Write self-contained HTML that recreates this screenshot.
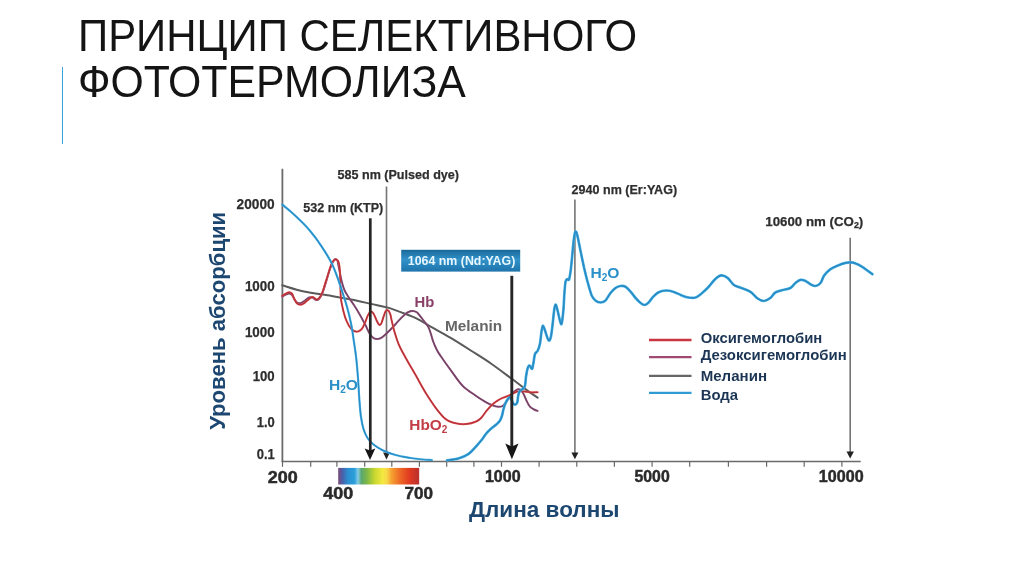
<!DOCTYPE html>
<html lang="ru"><head><meta charset="utf-8"><title>Принцип селективного фототермолиза</title>
<style>
html,body{margin:0;padding:0;background:#fff;}
body{width:1024px;height:574px;position:relative;overflow:hidden;font-family:"Liberation Sans",sans-serif;}
#title{position:absolute;left:77.6px;top:13px;margin:0;font-weight:400;font-size:44px;line-height:46px;color:#141414;white-space:nowrap;}
#title span{display:block;transform-origin:0 0;}
#t1{transform:scaleX(0.953);}
#t2{transform:scaleX(0.9727);}
#bar{position:absolute;left:61.5px;top:67.4px;width:1.4px;height:77px;background:#33a5d9;}
svg{position:absolute;left:0;top:0;}
svg text{font-family:"Liberation Sans",sans-serif;font-weight:700;}
</style></head><body>
<h1 id="title"><span id="t1">ПРИНЦИП СЕЛЕКТИВНОГО</span><span id="t2">ФОТОТЕРМОЛИЗА</span></h1>
<div id="bar"></div>
<svg width="1024" height="574" viewBox="0 0 1024 574">
<defs>
<linearGradient id="spec" x1="0" x2="1" y1="0" y2="0">
<stop offset="0" stop-color="#7b4a78"/><stop offset="0.05" stop-color="#4a5fa8"/><stop offset="0.12" stop-color="#2a8fd0"/><stop offset="0.2" stop-color="#2a9fd8"/><stop offset="0.245" stop-color="#86cbe8"/><stop offset="0.285" stop-color="#5aa870"/><stop offset="0.35" stop-color="#7ab648"/><stop offset="0.45" stop-color="#c8d830"/><stop offset="0.55" stop-color="#f5e840"/><stop offset="0.6" stop-color="#f8d848"/><stop offset="0.66" stop-color="#f5a030"/><stop offset="0.76" stop-color="#ee6a28"/><stop offset="0.88" stop-color="#e03a20"/><stop offset="1" stop-color="#b83030"/>
</linearGradient>
<linearGradient id="box" x1="0" x2="0" y1="0" y2="1">
<stop offset="0" stop-color="#1a6799"/><stop offset="0.45" stop-color="#3192c9"/><stop offset="1" stop-color="#1e74ab"/>
</linearGradient>
<filter id="soft" x="0" y="0" width="1024" height="574" filterUnits="userSpaceOnUse"><feGaussianBlur stdDeviation="0.55"/></filter>
</defs>
<g id="chart" filter="url(#soft)">
<!-- axes -->
<g stroke="#6a6a6a" stroke-width="1.5" fill="none">
<path d="M282.4 168.8V462" stroke-width="1.8"/>
<path d="M281.7 461.4H860.7"/>
<g stroke-width="1.2"><path d="M282.5 461.4V466.8"/><path d="M310.7 461.4V466.8"/><path d="M336.9 461.4V466.8"/><path d="M364.7 461.4V466.8"/><path d="M391.8 461.4V466.8"/><path d="M419.4 461.4V466.8"/><path d="M446.7 461.4V466.8"/><path d="M473.9 461.4V466.8"/><path d="M501.5 461.4V466.8"/><path d="M539.1 461.4V466.8"/><path d="M576.8 461.4V466.8"/><path d="M614.4 461.4V466.8"/><path d="M652.1 461.4V466.8"/><path d="M689.7 461.4V466.8"/><path d="M728.4 461.4V466.8"/><path d="M766.6 461.4V466.8"/><path d="M804.2 461.4V466.8"/><path d="M841.9 461.4V466.8"/></g>
</g>
<!-- laser marker lines -->
<g stroke="#747474" stroke-width="1.6" fill="none">
<path d="M386.5 186.4V455"/>
<path d="M574.9 199.6V455"/>
<path d="M850.2 237.8V455"/>
</g>
<g fill="#222">
<path d="M386.5 459.6L383.1 452.4H389.9Z"/>
<path d="M574.9 459.2L571.4 452.4H578.4Z"/>
<path d="M850.2 458.4L846.5 451.4H853.9Z"/>
</g>
<!-- curves -->
<g fill="none" stroke-linecap="round" stroke-linejoin="round">
<path d="M282.3 285.3C285.9 286.3 295.7 289.7 303.9 291.5C312.1 293.3 323.6 294.5 331.7 295.9C339.8 297.3 346.2 298.5 352.7 299.8C359.2 301.1 365.1 302.6 370.8 303.9C376.5 305.2 381.5 305.9 386.9 307.4C392.2 308.9 397.9 311.1 402.9 313.0C407.9 314.9 412.2 316.3 416.8 318.6C421.4 320.9 425.0 323.4 430.6 326.6C436.2 329.8 444.0 333.9 450.7 337.9C457.4 341.9 464.1 346.2 470.8 350.5C477.5 354.8 484.1 358.8 490.9 363.5C497.7 368.2 506.5 374.9 511.8 378.8C517.1 382.8 519.6 384.8 522.9 387.2C526.1 389.6 528.8 391.7 531.3 393.4C533.8 395.1 536.5 396.9 537.6 397.6" stroke="#5a5a5a" stroke-width="2"/>
<path d="M282.3 296.5C282.9 296.2 284.7 295.1 285.8 294.6C286.9 294.1 288.2 293.3 289.2 293.4C290.2 293.5 291.1 294.0 292.0 295.0C292.9 296.0 293.6 298.2 294.5 299.5C295.4 300.8 296.4 302.2 297.5 302.8C298.6 303.4 299.8 303.4 301.0 303.0C302.2 302.6 303.7 301.4 305.0 300.5C306.3 299.6 307.8 298.0 309.0 297.5C310.2 297.0 311.5 297.2 312.5 297.5C313.5 297.8 314.2 299.1 315.0 299.5C315.8 299.9 316.6 300.4 317.5 300.0C318.4 299.6 319.4 298.5 320.3 297.1C321.2 295.7 322.0 294.3 323.0 291.5C324.0 288.7 325.4 284.1 326.5 280.4C327.6 276.7 328.9 272.3 329.9 269.3C330.9 266.3 331.8 264.0 332.7 262.3C333.6 260.6 334.4 259.2 335.2 259.0C336.0 258.8 336.9 259.5 337.5 261.0C338.1 262.5 338.2 264.7 338.9 267.9C339.6 271.1 340.6 276.7 341.5 280.4C342.4 284.1 343.2 287.2 344.4 290.0C345.6 292.8 346.9 294.4 348.5 297.0C350.1 299.6 352.2 302.4 354.1 305.3C356.0 308.2 357.8 311.1 359.7 314.4C361.6 317.6 363.7 321.7 365.3 324.8C366.9 327.9 368.0 331.0 369.4 333.2C370.8 335.4 372.2 337.1 373.6 338.1C375.0 339.1 376.4 339.1 377.8 339.0C379.2 338.9 380.4 338.5 382.0 337.4C383.6 336.3 385.6 334.2 387.5 332.5C389.4 330.8 391.2 328.9 393.1 326.9C395.0 324.9 396.8 322.6 398.7 320.6C400.6 318.6 402.7 316.5 404.3 315.1C405.9 313.7 407.0 312.7 408.4 312.0C409.8 311.3 411.2 310.8 412.6 310.9C414.0 310.9 415.5 311.4 416.8 312.3C418.1 313.2 419.3 315.1 420.6 316.6C421.9 318.2 423.1 319.9 424.4 321.6C425.6 323.3 427.1 324.7 428.1 326.6C429.1 328.5 429.8 330.4 430.6 332.9C431.5 335.4 432.1 338.6 433.2 341.5C434.2 344.4 435.6 347.5 436.9 350.0C438.2 352.5 438.7 353.1 441.0 356.5C443.3 359.9 447.1 365.2 450.7 370.1C454.3 375.0 458.4 381.5 462.6 385.8C466.8 390.1 472.0 393.0 475.8 395.7C479.6 398.4 482.6 400.2 485.3 401.8C488.1 403.4 490.2 404.5 492.3 405.3C494.4 406.1 496.2 406.6 497.9 406.7C499.6 406.8 501.3 406.8 502.7 406.0C504.1 405.2 504.9 403.4 506.2 401.8C507.5 400.2 509.0 397.9 510.4 396.2C511.8 394.4 513.3 392.4 514.6 391.3C515.9 390.2 517.1 389.5 518.1 389.3C519.1 389.1 520.0 389.2 520.9 390.0C521.8 390.8 522.7 392.4 523.6 394.1C524.5 395.8 525.4 398.3 526.4 400.4C527.4 402.5 528.6 405.2 529.9 406.7C531.2 408.2 532.8 408.8 534.1 409.5C535.4 410.2 537.0 410.7 537.6 410.9" stroke="#9a5a86" stroke-width="2"/>
<path d="M282.3 296.5C282.9 296.2 284.7 295.1 285.8 294.6C286.9 294.1 288.2 293.3 289.2 293.4C290.2 293.5 291.1 294.0 292.0 295.0C292.9 296.0 293.6 298.2 294.5 299.5C295.4 300.8 296.4 302.2 297.5 302.8C298.6 303.4 299.8 303.4 301.0 303.0C302.2 302.6 303.7 301.4 305.0 300.5C306.3 299.6 307.8 298.0 309.0 297.5C310.2 297.0 311.5 297.2 312.5 297.5C313.5 297.8 314.2 299.1 315.0 299.5C315.8 299.9 316.6 300.4 317.5 300.0C318.4 299.6 319.4 298.5 320.3 297.1C321.2 295.7 322.0 294.3 323.0 291.5C324.0 288.7 325.4 284.1 326.5 280.4C327.6 276.7 328.9 272.3 329.9 269.3C330.9 266.3 331.8 264.0 332.7 262.3C333.6 260.6 334.4 259.2 335.2 259.0C336.0 258.8 336.9 259.5 337.5 261.0C338.1 262.5 338.2 264.7 338.9 267.9C339.6 271.1 340.6 276.7 341.5 280.4C342.4 284.1 343.2 287.2 344.4 290.0C345.6 292.8 346.9 294.4 348.5 297.0C350.1 299.6 352.2 302.4 354.1 305.3C356.0 308.2 357.8 311.1 359.7 314.4C361.6 317.6 363.7 321.7 365.3 324.8C366.9 327.9 368.0 331.0 369.4 333.2C370.8 335.4 372.2 337.1 373.6 338.1C375.0 339.1 376.4 339.1 377.8 339.0C379.2 338.9 380.4 338.5 382.0 337.4C383.6 336.3 385.6 334.2 387.5 332.5C389.4 330.8 391.2 328.9 393.1 326.9C395.0 324.9 396.8 322.6 398.7 320.6C400.6 318.6 402.7 316.5 404.3 315.1C405.9 313.7 407.0 312.7 408.4 312.0C409.8 311.3 411.2 310.8 412.6 310.9C414.0 310.9 415.5 311.4 416.8 312.3C418.1 313.2 419.3 315.1 420.6 316.6C421.9 318.2 423.1 319.9 424.4 321.6C425.6 323.3 427.1 324.7 428.1 326.6C429.1 328.5 429.8 330.4 430.6 332.9C431.5 335.4 432.1 338.6 433.2 341.5C434.2 344.4 435.6 347.5 436.9 350.0C438.2 352.5 438.7 353.1 441.0 356.5C443.3 359.9 447.1 365.2 450.7 370.1C454.3 375.0 458.4 381.5 462.6 385.8C466.8 390.1 472.0 393.0 475.8 395.7C479.6 398.4 482.6 400.2 485.3 401.8C488.1 403.4 490.2 404.5 492.3 405.3C494.4 406.1 496.2 406.6 497.9 406.7C499.6 406.8 501.3 406.8 502.7 406.0C504.1 405.2 504.9 403.4 506.2 401.8C507.5 400.2 509.0 397.9 510.4 396.2C511.8 394.4 513.3 392.4 514.6 391.3C515.9 390.2 517.1 389.5 518.1 389.3C519.1 389.1 520.0 389.2 520.9 390.0C521.8 390.8 522.7 392.4 523.6 394.1C524.5 395.8 525.4 398.3 526.4 400.4C527.4 402.5 528.6 405.2 529.9 406.7C531.2 408.2 532.8 408.8 534.1 409.5C535.4 410.2 537.0 410.7 537.6 410.9" stroke="#6e4060" stroke-width="1.1"/>
<path d="M282.3 295.7C282.9 295.4 284.7 294.2 285.8 293.6C286.9 293.0 288.2 292.2 289.2 292.2C290.2 292.2 291.2 292.6 292.0 293.6C292.8 294.7 293.3 296.9 294.1 298.5C294.9 300.1 295.8 302.3 296.9 303.4C297.9 304.4 299.2 304.8 300.4 304.8C301.6 304.8 302.6 304.2 303.9 303.4C305.2 302.6 306.6 300.9 308.0 299.9C309.4 298.8 311.0 297.3 312.2 297.1C313.4 296.9 314.2 298.1 315.0 298.5C315.8 298.9 316.3 299.8 317.1 299.6C317.9 299.4 319.0 298.5 319.9 297.1C320.8 295.8 321.6 294.3 322.7 291.5C323.8 288.7 325.0 284.1 326.2 280.4C327.4 276.7 328.6 272.3 329.6 269.3C330.6 266.3 331.5 263.9 332.4 262.3C333.3 260.7 334.3 259.7 335.2 259.5C336.1 259.3 337.3 259.8 338.0 260.9C338.7 261.9 339.0 263.5 339.4 265.8C339.8 268.1 339.9 271.4 340.1 274.8C340.3 278.2 340.3 282.1 340.4 286.0C340.5 289.9 340.5 294.5 340.9 298.4C341.3 302.3 342.1 305.8 343.0 309.5C343.9 313.2 345.0 317.4 346.4 320.6C347.8 323.9 349.6 327.1 351.3 329.0C353.1 330.9 355.1 331.8 356.9 331.8C358.6 331.8 360.4 330.6 361.8 329.0C363.2 327.4 364.3 324.3 365.3 322.0C366.3 319.7 367.1 316.8 368.0 315.1C368.9 313.4 369.9 311.8 370.8 311.6C371.7 311.4 372.7 312.3 373.6 313.7C374.5 315.1 375.5 318.1 376.4 320.0C377.3 321.9 378.4 324.2 379.2 324.8C380.0 325.4 380.6 324.7 381.3 323.4C382.0 322.1 382.7 319.2 383.4 317.2C384.1 315.2 384.8 312.8 385.5 311.6C386.2 310.4 387.0 309.9 387.8 310.2C388.6 310.5 389.5 312.0 390.1 313.7C390.8 315.4 391.0 317.6 391.7 320.6C392.4 323.6 393.3 327.9 394.5 331.8C395.7 335.8 396.9 340.0 398.7 344.3C400.5 348.6 402.7 352.4 405.5 357.5C408.3 362.6 412.2 369.2 415.6 375.1C419.0 381.0 422.2 387.2 425.6 392.7C429.0 398.1 432.4 403.4 435.7 407.8C439.0 412.2 442.4 416.5 445.7 419.1C449.0 421.7 452.3 422.5 455.7 423.3C459.1 424.1 462.5 424.4 465.8 424.1C469.1 423.9 473.1 422.8 475.6 421.8C478.2 420.8 479.2 419.9 481.1 418.0C483.0 416.1 484.8 412.8 486.7 410.6C488.6 408.4 490.4 406.3 492.3 404.6C494.2 402.9 496.0 401.6 497.9 400.4C499.8 399.2 501.5 398.4 503.4 397.6C505.2 396.8 507.4 396.2 509.0 395.5C510.6 394.8 511.8 394.1 513.2 393.4C514.6 392.7 515.8 391.9 517.4 391.5C519.0 391.1 520.8 391.2 522.9 391.3C525.0 391.4 527.4 392.1 529.9 392.3C532.4 392.5 536.3 392.3 537.6 392.3" stroke="#e24e50" stroke-width="2"/>
<path d="M282.3 295.7C282.9 295.4 284.7 294.2 285.8 293.6C286.9 293.0 288.2 292.2 289.2 292.2C290.2 292.2 291.2 292.6 292.0 293.6C292.8 294.7 293.3 296.9 294.1 298.5C294.9 300.1 295.8 302.3 296.9 303.4C297.9 304.4 299.2 304.8 300.4 304.8C301.6 304.8 302.6 304.2 303.9 303.4C305.2 302.6 306.6 300.9 308.0 299.9C309.4 298.8 311.0 297.3 312.2 297.1C313.4 296.9 314.2 298.1 315.0 298.5C315.8 298.9 316.3 299.8 317.1 299.6C317.9 299.4 319.0 298.5 319.9 297.1C320.8 295.8 321.6 294.3 322.7 291.5C323.8 288.7 325.0 284.1 326.2 280.4C327.4 276.7 328.6 272.3 329.6 269.3C330.6 266.3 331.5 263.9 332.4 262.3C333.3 260.7 334.3 259.7 335.2 259.5C336.1 259.3 337.3 259.8 338.0 260.9C338.7 261.9 339.0 263.5 339.4 265.8C339.8 268.1 339.9 271.4 340.1 274.8C340.3 278.2 340.3 282.1 340.4 286.0C340.5 289.9 340.5 294.5 340.9 298.4C341.3 302.3 342.1 305.8 343.0 309.5C343.9 313.2 345.0 317.4 346.4 320.6C347.8 323.9 349.6 327.1 351.3 329.0C353.1 330.9 355.1 331.8 356.9 331.8C358.6 331.8 360.4 330.6 361.8 329.0C363.2 327.4 364.3 324.3 365.3 322.0C366.3 319.7 367.1 316.8 368.0 315.1C368.9 313.4 369.9 311.8 370.8 311.6C371.7 311.4 372.7 312.3 373.6 313.7C374.5 315.1 375.5 318.1 376.4 320.0C377.3 321.9 378.4 324.2 379.2 324.8C380.0 325.4 380.6 324.7 381.3 323.4C382.0 322.1 382.7 319.2 383.4 317.2C384.1 315.2 384.8 312.8 385.5 311.6C386.2 310.4 387.0 309.9 387.8 310.2C388.6 310.5 389.5 312.0 390.1 313.7C390.8 315.4 391.0 317.6 391.7 320.6C392.4 323.6 393.3 327.9 394.5 331.8C395.7 335.8 396.9 340.0 398.7 344.3C400.5 348.6 402.7 352.4 405.5 357.5C408.3 362.6 412.2 369.2 415.6 375.1C419.0 381.0 422.2 387.2 425.6 392.7C429.0 398.1 432.4 403.4 435.7 407.8C439.0 412.2 442.4 416.5 445.7 419.1C449.0 421.7 452.3 422.5 455.7 423.3C459.1 424.1 462.5 424.4 465.8 424.1C469.1 423.9 473.1 422.8 475.6 421.8C478.2 420.8 479.2 419.9 481.1 418.0C483.0 416.1 484.8 412.8 486.7 410.6C488.6 408.4 490.4 406.3 492.3 404.6C494.2 402.9 496.0 401.6 497.9 400.4C499.8 399.2 501.5 398.4 503.4 397.6C505.2 396.8 507.4 396.2 509.0 395.5C510.6 394.8 511.8 394.1 513.2 393.4C514.6 392.7 515.8 391.9 517.4 391.5C519.0 391.1 520.8 391.2 522.9 391.3C525.0 391.4 527.4 392.1 529.9 392.3C532.4 392.5 536.3 392.3 537.6 392.3" stroke="#ae3038" stroke-width="1.1"/>
<path d="M282.3 204.6C283.6 205.7 287.5 208.8 289.9 210.9C292.3 213.0 294.6 215.0 296.9 217.2C299.2 219.4 301.6 221.7 303.9 224.1C306.2 226.5 308.5 229.0 310.8 231.8C313.1 234.6 315.5 237.7 317.8 240.9C320.1 244.2 322.5 247.6 324.8 251.3C327.1 255.0 329.6 259.0 331.7 263.3C333.8 267.6 335.5 272.1 337.3 277.0C339.1 281.9 340.9 287.5 342.5 292.5C344.1 297.5 345.5 301.4 347.0 306.8C348.5 312.2 350.1 318.8 351.3 324.8C352.5 330.8 353.2 337.1 354.1 342.9C355.0 348.7 355.8 353.8 356.4 359.7C357.0 365.6 357.5 371.3 358.0 378.0C358.5 384.7 358.9 393.5 359.4 400.0C359.9 406.5 360.3 412.2 361.0 417.0C361.7 421.8 362.4 425.5 363.5 429.0C364.6 432.5 365.8 435.4 367.5 438.0C369.2 440.6 370.9 442.4 373.5 444.5C376.1 446.6 379.3 448.6 383.0 450.4C386.7 452.1 390.9 453.7 395.5 455.0C400.1 456.3 406.0 457.2 410.6 458.0C415.2 458.8 419.6 459.2 423.1 459.5C426.7 459.8 430.4 459.9 431.9 460.0" stroke="#4ab6ea" stroke-width="2.2"/>
<path d="M282.3 204.6C283.6 205.7 287.5 208.8 289.9 210.9C292.3 213.0 294.6 215.0 296.9 217.2C299.2 219.4 301.6 221.7 303.9 224.1C306.2 226.5 308.5 229.0 310.8 231.8C313.1 234.6 315.5 237.7 317.8 240.9C320.1 244.2 322.5 247.6 324.8 251.3C327.1 255.0 329.6 259.0 331.7 263.3C333.8 267.6 335.5 272.1 337.3 277.0C339.1 281.9 340.9 287.5 342.5 292.5C344.1 297.5 345.5 301.4 347.0 306.8C348.5 312.2 350.1 318.8 351.3 324.8C352.5 330.8 353.2 337.1 354.1 342.9C355.0 348.7 355.8 353.8 356.4 359.7C357.0 365.6 357.5 371.3 358.0 378.0C358.5 384.7 358.9 393.5 359.4 400.0C359.9 406.5 360.3 412.2 361.0 417.0C361.7 421.8 362.4 425.5 363.5 429.0C364.6 432.5 365.8 435.4 367.5 438.0C369.2 440.6 370.9 442.4 373.5 444.5C376.1 446.6 379.3 448.6 383.0 450.4C386.7 452.1 390.9 453.7 395.5 455.0C400.1 456.3 406.0 457.2 410.6 458.0C415.2 458.8 419.6 459.2 423.1 459.5C426.7 459.8 430.4 459.9 431.9 460.0" stroke="#2a8ac2" stroke-width="1.25"/>
<path d="M447.0 460.3C448.9 460.0 454.8 459.5 458.3 458.5C461.9 457.5 465.4 456.2 468.3 454.2C471.2 452.2 473.5 449.1 475.8 446.7C478.1 444.2 480.3 441.6 482.0 439.5C483.7 437.4 484.5 435.6 486.0 433.8C487.5 432.0 489.1 430.4 490.9 428.8C492.6 427.2 495.0 425.7 496.5 424.3C498.0 422.9 499.1 422.0 500.0 420.6C500.9 419.2 501.4 417.6 502.0 415.7C502.6 413.8 502.8 411.6 503.4 409.5C504.0 407.4 504.7 405.0 505.5 403.2C506.3 401.4 507.5 399.4 508.3 398.5C509.1 397.6 509.8 397.5 510.4 397.8C511.0 398.1 511.3 399.4 511.8 400.4C512.3 401.4 512.8 403.2 513.5 403.9C514.2 404.5 515.4 404.6 516.0 404.3C516.6 404.0 517.0 403.2 517.4 401.8C517.8 400.4 517.8 397.9 518.1 396.2C518.5 394.5 518.8 392.6 519.5 391.5C520.2 390.4 521.4 390.1 522.2 389.3C523.1 388.6 524.1 388.2 524.6 387.0C525.1 385.8 525.3 383.7 525.5 382.0C525.7 380.3 525.7 378.6 526.0 376.7C526.3 374.8 526.7 372.2 527.1 370.5C527.5 368.8 528.0 366.9 528.5 366.2C529.0 365.4 529.7 365.6 530.2 366.0C530.7 366.4 530.9 368.0 531.3 368.4C531.7 368.8 532.0 369.3 532.4 368.2C532.8 367.1 533.2 364.4 533.6 362.0C534.0 359.6 534.3 355.9 535.0 354.0C535.7 352.1 537.0 352.2 537.8 350.5C538.6 348.8 539.4 346.6 540.0 343.6C540.6 340.6 540.9 335.4 541.4 332.4C541.9 329.4 542.2 326.3 542.8 325.8C543.3 325.3 543.9 327.6 544.7 329.6C545.5 331.6 546.7 336.2 547.5 338.0C548.3 339.8 548.9 341.0 549.5 340.5C550.1 340.0 550.6 338.6 551.2 335.2C551.8 331.8 552.6 324.4 553.1 319.9C553.6 315.4 554.0 310.5 554.5 308.0C555.0 305.5 555.4 304.2 555.9 304.8C556.4 305.4 557.1 308.8 557.8 311.5C558.5 314.2 559.5 319.3 560.1 321.3C560.8 323.3 561.2 325.4 561.7 323.5C562.2 321.6 562.9 315.4 563.4 310.1C563.9 304.9 564.1 296.8 564.5 292.0C564.9 287.2 565.1 283.6 565.6 281.5C566.1 279.4 566.7 279.5 567.3 279.2C567.9 278.9 568.5 280.9 569.0 279.5C569.5 278.1 570.1 274.7 570.6 271.1C571.1 267.5 571.5 262.9 572.0 258.0C572.5 253.2 573.0 246.4 573.5 242.0C574.0 237.6 574.7 232.9 575.3 231.8C575.9 230.7 576.4 232.2 577.3 235.3C578.1 238.4 579.3 244.9 580.4 250.3C581.5 255.7 582.9 262.4 584.1 267.9C585.4 273.3 586.6 278.4 587.9 283.0C589.2 287.6 590.5 292.6 591.7 295.5C593.0 298.4 594.0 299.3 595.4 300.5C596.8 301.7 598.7 302.5 600.4 302.5C602.1 302.5 603.8 302.1 605.5 300.5C607.2 298.9 608.8 295.1 610.5 293.0C612.2 290.9 613.8 289.2 615.5 288.0C617.2 286.8 618.8 286.2 620.5 286.0C622.2 285.8 623.8 285.8 625.5 286.7C627.2 287.6 628.9 289.8 630.6 291.7C632.3 293.6 633.9 296.1 635.6 298.0C637.3 299.9 639.1 301.8 640.6 303.0C642.1 304.2 643.1 305.0 644.4 305.0C645.6 305.0 646.6 304.4 648.1 303.0C649.6 301.6 651.5 298.6 653.2 296.8C654.9 295.1 656.1 293.6 658.2 292.5C660.3 291.4 663.2 290.6 665.7 290.5C668.2 290.4 670.7 290.9 673.2 291.7C675.7 292.4 678.3 294.0 680.8 295.0C683.3 296.0 685.8 297.1 688.3 297.5C690.8 297.9 693.5 298.2 695.8 297.5C698.1 296.8 700.1 294.7 702.1 293.0C704.1 291.3 705.8 289.8 708.0 287.5C710.2 285.2 712.9 281.2 715.1 279.2C717.3 277.2 719.2 275.6 721.3 275.4C723.4 275.2 725.5 276.3 727.6 277.9C729.7 279.5 731.8 283.4 733.9 285.0C736.0 286.6 737.5 286.4 740.2 287.5C742.9 288.6 747.3 289.9 750.2 291.7C753.1 293.5 755.4 296.9 757.7 298.5C760.0 300.1 761.9 301.1 764.0 301.0C766.1 300.9 768.4 299.4 770.3 298.0C772.2 296.6 773.2 293.8 775.3 292.5C777.4 291.2 780.3 290.8 782.8 290.0C785.3 289.2 788.3 289.2 790.4 288.0C792.5 286.8 793.7 284.4 795.4 283.0C797.1 281.6 798.7 280.2 800.4 279.9C802.1 279.5 803.7 280.2 805.4 280.9C807.1 281.6 808.7 283.3 810.4 284.2C812.1 285.1 813.8 286.2 815.5 286.0C817.2 285.8 819.0 284.8 820.5 283.0C822.0 281.2 822.5 277.7 824.2 275.4C825.9 273.1 828.2 270.8 830.5 269.1C832.8 267.4 835.5 266.4 838.0 265.4C840.5 264.4 843.5 263.4 845.6 262.9C847.7 262.4 848.9 262.3 850.6 262.4C852.3 262.5 853.7 262.7 855.6 263.4C857.5 264.1 859.8 265.3 861.9 266.6C864.0 267.9 866.5 269.9 868.2 271.2C870.0 272.5 871.7 273.7 872.4 274.2" stroke="#4ab6ea" stroke-width="2.7"/>
<path d="M447.0 460.3C448.9 460.0 454.8 459.5 458.3 458.5C461.9 457.5 465.4 456.2 468.3 454.2C471.2 452.2 473.5 449.1 475.8 446.7C478.1 444.2 480.3 441.6 482.0 439.5C483.7 437.4 484.5 435.6 486.0 433.8C487.5 432.0 489.1 430.4 490.9 428.8C492.6 427.2 495.0 425.7 496.5 424.3C498.0 422.9 499.1 422.0 500.0 420.6C500.9 419.2 501.4 417.6 502.0 415.7C502.6 413.8 502.8 411.6 503.4 409.5C504.0 407.4 504.7 405.0 505.5 403.2C506.3 401.4 507.5 399.4 508.3 398.5C509.1 397.6 509.8 397.5 510.4 397.8C511.0 398.1 511.3 399.4 511.8 400.4C512.3 401.4 512.8 403.2 513.5 403.9C514.2 404.5 515.4 404.6 516.0 404.3C516.6 404.0 517.0 403.2 517.4 401.8C517.8 400.4 517.8 397.9 518.1 396.2C518.5 394.5 518.8 392.6 519.5 391.5C520.2 390.4 521.4 390.1 522.2 389.3C523.1 388.6 524.1 388.2 524.6 387.0C525.1 385.8 525.3 383.7 525.5 382.0C525.7 380.3 525.7 378.6 526.0 376.7C526.3 374.8 526.7 372.2 527.1 370.5C527.5 368.8 528.0 366.9 528.5 366.2C529.0 365.4 529.7 365.6 530.2 366.0C530.7 366.4 530.9 368.0 531.3 368.4C531.7 368.8 532.0 369.3 532.4 368.2C532.8 367.1 533.2 364.4 533.6 362.0C534.0 359.6 534.3 355.9 535.0 354.0C535.7 352.1 537.0 352.2 537.8 350.5C538.6 348.8 539.4 346.6 540.0 343.6C540.6 340.6 540.9 335.4 541.4 332.4C541.9 329.4 542.2 326.3 542.8 325.8C543.3 325.3 543.9 327.6 544.7 329.6C545.5 331.6 546.7 336.2 547.5 338.0C548.3 339.8 548.9 341.0 549.5 340.5C550.1 340.0 550.6 338.6 551.2 335.2C551.8 331.8 552.6 324.4 553.1 319.9C553.6 315.4 554.0 310.5 554.5 308.0C555.0 305.5 555.4 304.2 555.9 304.8C556.4 305.4 557.1 308.8 557.8 311.5C558.5 314.2 559.5 319.3 560.1 321.3C560.8 323.3 561.2 325.4 561.7 323.5C562.2 321.6 562.9 315.4 563.4 310.1C563.9 304.9 564.1 296.8 564.5 292.0C564.9 287.2 565.1 283.6 565.6 281.5C566.1 279.4 566.7 279.5 567.3 279.2C567.9 278.9 568.5 280.9 569.0 279.5C569.5 278.1 570.1 274.7 570.6 271.1C571.1 267.5 571.5 262.9 572.0 258.0C572.5 253.2 573.0 246.4 573.5 242.0C574.0 237.6 574.7 232.9 575.3 231.8C575.9 230.7 576.4 232.2 577.3 235.3C578.1 238.4 579.3 244.9 580.4 250.3C581.5 255.7 582.9 262.4 584.1 267.9C585.4 273.3 586.6 278.4 587.9 283.0C589.2 287.6 590.5 292.6 591.7 295.5C593.0 298.4 594.0 299.3 595.4 300.5C596.8 301.7 598.7 302.5 600.4 302.5C602.1 302.5 603.8 302.1 605.5 300.5C607.2 298.9 608.8 295.1 610.5 293.0C612.2 290.9 613.8 289.2 615.5 288.0C617.2 286.8 618.8 286.2 620.5 286.0C622.2 285.8 623.8 285.8 625.5 286.7C627.2 287.6 628.9 289.8 630.6 291.7C632.3 293.6 633.9 296.1 635.6 298.0C637.3 299.9 639.1 301.8 640.6 303.0C642.1 304.2 643.1 305.0 644.4 305.0C645.6 305.0 646.6 304.4 648.1 303.0C649.6 301.6 651.5 298.6 653.2 296.8C654.9 295.1 656.1 293.6 658.2 292.5C660.3 291.4 663.2 290.6 665.7 290.5C668.2 290.4 670.7 290.9 673.2 291.7C675.7 292.4 678.3 294.0 680.8 295.0C683.3 296.0 685.8 297.1 688.3 297.5C690.8 297.9 693.5 298.2 695.8 297.5C698.1 296.8 700.1 294.7 702.1 293.0C704.1 291.3 705.8 289.8 708.0 287.5C710.2 285.2 712.9 281.2 715.1 279.2C717.3 277.2 719.2 275.6 721.3 275.4C723.4 275.2 725.5 276.3 727.6 277.9C729.7 279.5 731.8 283.4 733.9 285.0C736.0 286.6 737.5 286.4 740.2 287.5C742.9 288.6 747.3 289.9 750.2 291.7C753.1 293.5 755.4 296.9 757.7 298.5C760.0 300.1 761.9 301.1 764.0 301.0C766.1 300.9 768.4 299.4 770.3 298.0C772.2 296.6 773.2 293.8 775.3 292.5C777.4 291.2 780.3 290.8 782.8 290.0C785.3 289.2 788.3 289.2 790.4 288.0C792.5 286.8 793.7 284.4 795.4 283.0C797.1 281.6 798.7 280.2 800.4 279.9C802.1 279.5 803.7 280.2 805.4 280.9C807.1 281.6 808.7 283.3 810.4 284.2C812.1 285.1 813.8 286.2 815.5 286.0C817.2 285.8 819.0 284.8 820.5 283.0C822.0 281.2 822.5 277.7 824.2 275.4C825.9 273.1 828.2 270.8 830.5 269.1C832.8 267.4 835.5 266.4 838.0 265.4C840.5 264.4 843.5 263.4 845.6 262.9C847.7 262.4 848.9 262.3 850.6 262.4C852.3 262.5 853.7 262.7 855.6 263.4C857.5 264.1 859.8 265.3 861.9 266.6C864.0 267.9 866.5 269.9 868.2 271.2C870.0 272.5 871.7 273.7 872.4 274.2" stroke="#2a8ac2" stroke-width="1.6"/>
</g>
<!-- thick arrows -->
<g stroke="#262626" fill="none">
<path d="M370.3 218.3V452" stroke-width="2.7"/>
<path d="M511.8 275.8V448" stroke-width="2.9"/>
</g>
<g fill="#181818">
<path d="M370 459.9L364.7 448.4L370 450.6L375.3 448.4Z"/>
<path d="M511.9 459.3L505.3 443.6L511.9 446.6L518.5 443.6Z"/>
</g>
<!-- spectrum -->
<rect x="338.2" y="467.9" width="81" height="16.6" fill="url(#spec)"/>
<!-- 1064 box -->
<rect x="401.2" y="249.8" width="119" height="21.8" fill="url(#box)"/>
<text x="407.8" y="265.3" font-size="13.5" fill="#e8f7ff" textLength="107.5" lengthAdjust="spacingAndGlyphs">1064 nm (Nd:YAG)</text>
<!-- labels -->
<g fill="#2e2e2e" font-size="13.4" stroke="#2e2e2e" stroke-width="0.25">
<text x="337.5" y="178.6" textLength="121.5" lengthAdjust="spacingAndGlyphs">585 nm (Pulsed dye)</text>
<text x="303.3" y="212" textLength="80" lengthAdjust="spacingAndGlyphs">532 nm (KTP)</text>
<text x="571.6" y="193.8" textLength="105.5" lengthAdjust="spacingAndGlyphs">2940 nm (Er:YAG)</text>
<text x="765.3" y="225.7" textLength="98" lengthAdjust="spacingAndGlyphs">10600 nm (CO<tspan font-size="9" dy="2.5">2</tspan><tspan dy="-2.5">)</tspan></text>
</g><g fill="#2e2e2e" font-size="14" stroke="#2e2e2e" stroke-width="0.25">
<text x="236.6" y="208.8" textLength="38" lengthAdjust="spacingAndGlyphs">20000</text>
<text x="244.9" y="290.9" textLength="29.8" lengthAdjust="spacingAndGlyphs">1000</text>
<text x="244.9" y="337.1" textLength="29.8" lengthAdjust="spacingAndGlyphs">1000</text>
<text x="252.7" y="380.7" textLength="22" lengthAdjust="spacingAndGlyphs">100</text>
<text x="256.7" y="426.7" textLength="18" lengthAdjust="spacingAndGlyphs">1.0</text>
<text x="256.7" y="458.8" textLength="18" lengthAdjust="spacingAndGlyphs">0.1</text>
</g>
<g fill="#2a2a2a" font-size="15.6" stroke="#2a2a2a" stroke-width="0.45">
<text x="267.8" y="482.6" textLength="30" lengthAdjust="spacingAndGlyphs">200</text>
<text x="484.9" y="482.1" textLength="35.8" lengthAdjust="spacingAndGlyphs">1000</text>
<text x="634.5" y="482.1" textLength="35.2" lengthAdjust="spacingAndGlyphs">5000</text>
<text x="818.8" y="482.1" textLength="44.8" lengthAdjust="spacingAndGlyphs">10000</text>
<text x="323.2" y="499.3" textLength="30" lengthAdjust="spacingAndGlyphs">400</text>
<text x="404.4" y="499.3" textLength="28.6" lengthAdjust="spacingAndGlyphs">700</text>
</g>
<g font-size="15.5">
<text x="329" y="389.5" fill="#2c90c8" textLength="29" lengthAdjust="spacingAndGlyphs">H<tspan font-size="10" dy="3">2</tspan><tspan dy="-3">O</tspan></text>
<text x="590.4" y="278.4" fill="#2c90c8" textLength="29" lengthAdjust="spacingAndGlyphs">H<tspan font-size="10" dy="3">2</tspan><tspan dy="-3">O</tspan></text>
<text x="409.3" y="429.6" fill="#c23c46" textLength="38" lengthAdjust="spacingAndGlyphs">HbO<tspan font-size="10" dy="3">2</tspan></text>
<text x="414.6" y="307" fill="#8b3f68" textLength="19.8" lengthAdjust="spacingAndGlyphs">Hb</text>
<text x="445" y="330.9" fill="#666" textLength="57.2" lengthAdjust="spacingAndGlyphs">Melanin</text>
</g>
<!-- legend -->
<g stroke-width="2.3" fill="none">
<path d="M649 340H691.5" stroke="#c93640"/>
<path d="M649 357.2H691.5" stroke="#a04a72"/>
<path d="M649 375.8H691.5" stroke="#666"/>
<path d="M649 392.9H691.5" stroke="#2f9bd2"/>
</g>
<g fill="#1c3654" font-size="14.8">
<text x="700.7" y="342.6" textLength="121.6" lengthAdjust="spacingAndGlyphs">Оксигемоглобин</text>
<text x="700.7" y="360.1" textLength="146" lengthAdjust="spacingAndGlyphs">Дезоксигемоглобин</text>
<text x="700.7" y="381.2" textLength="66.3" lengthAdjust="spacingAndGlyphs">Меланин</text>
<text x="700.7" y="399.5" textLength="37.4" lengthAdjust="spacingAndGlyphs">Вода</text>
</g>
<!-- axis titles -->
<text x="469" y="516.6" font-size="22" fill="#1e4670" textLength="150.5" lengthAdjust="spacingAndGlyphs">Длина волны</text>
<text transform="translate(225.3 429.8) rotate(-90)" font-size="22.5" fill="#1e4670" textLength="218" lengthAdjust="spacingAndGlyphs">Уровень абсорбции</text>
</g>
</svg>
</body></html>
